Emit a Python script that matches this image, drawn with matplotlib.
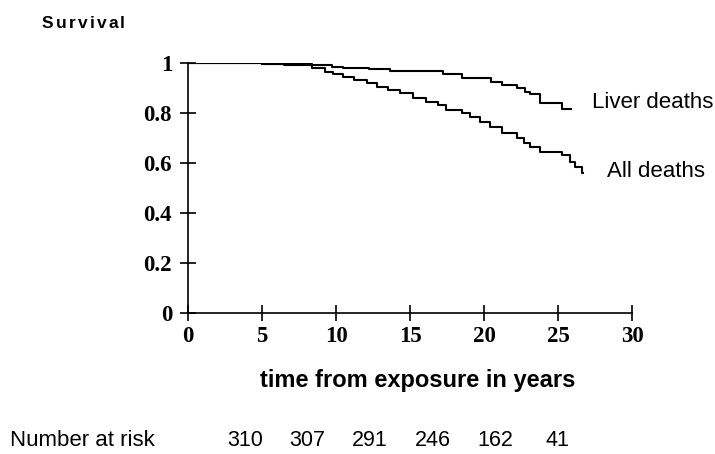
import matplotlib
matplotlib.use('Agg')
import matplotlib.pyplot as plt

# Kaplan-Meier style step curves
liver_t = [0, 3.0, 5.0, 8.35, 9.7, 10.5, 12.2, 13.65, 17.2, 18.5, 20.5, 21.2, 22.2, 22.8, 23.1, 23.8, 25.25, 25.9]
liver_s = [1.0, 0.999, 0.997, 0.992, 0.983, 0.979, 0.975, 0.969, 0.955, 0.939, 0.925, 0.912, 0.899, 0.885, 0.875, 0.839, 0.815, 0.815]

all_t = [0, 3.0, 5.0, 6.5, 8.35, 9.25, 9.8, 10.5, 11.2, 12.1, 12.75, 13.5, 14.3, 15.2, 16.1, 16.9, 17.4, 18.5, 19.05,
         19.7, 20.4, 21.2, 22.2, 22.7, 23.1, 23.8, 25.25, 25.8, 26.15, 26.6, 26.7]
all_s = [1.0, 0.999, 0.996, 0.993, 0.979, 0.965, 0.955, 0.945, 0.932, 0.919, 0.905, 0.892, 0.879, 0.859, 0.845,
         0.832, 0.812, 0.799, 0.785, 0.765, 0.745, 0.719, 0.699, 0.679, 0.665, 0.643, 0.632, 0.605, 0.583, 0.559, 0.559]

xticks = [0, 5, 10, 15, 20, 25, 30]
yticks = [0, 0.2, 0.4, 0.6, 0.8, 1]
ytick_labels = ['0', '0.2', '0.4', '0.6', '0.8', '1']
at_risk = [310, 307, 291, 246, 162, 41]

W, H = 715, 454
fig = plt.figure(figsize=(W / 100, H / 100), dpi=100)
ax = fig.add_axes([188 / W, 1 - 313 / H, 444 / W, 250 / H])

ax.step(liver_t, liver_s, where='post', color='black', lw=1.5)
ax.step(all_t, all_s, where='post', color='black', lw=1.5)

ax.set_xlim(0, 30)
ax.set_ylim(0, 1)
ax.spines['top'].set_visible(False)
ax.spines['right'].set_visible(False)
ax.spines['left'].set_linewidth(1.2)
ax.spines['bottom'].set_linewidth(1.2)

ax.set_xticks(xticks)
ax.set_yticks(yticks)
ax.set_yticklabels(ytick_labels)
ax.tick_params(direction='inout', length=11, width=1.2)
ax.tick_params(axis='x', pad=3.5)
ax.tick_params(axis='y', pad=6)
for lab in ax.get_xticklabels() + ax.get_yticklabels():
    lab.set_fontfamily('Liberation Serif')
    lab.set_fontweight('bold')
    lab.set_fontsize(16.5)

fig.text(418 / W, 1 - 380 / H, 'time from exposure in years', fontfamily='Liberation Sans',
         fontweight='bold', fontsize=17, va='center', ha='center')

# "Survival" with a little letter spacing
fig.canvas.draw()
renderer = fig.canvas.get_renderer()
xpos = 42
for ch in 'Survival':
    t = fig.text(xpos / W, 1 - 23 / H, ch, fontfamily='Liberation Sans', fontweight='bold',
                 fontsize=12.5, va='center', ha='left')
    xpos += t.get_window_extent(renderer).width + 2.2

ax.text(27.28, 0.843, 'Liver deaths', fontfamily='Liberation Sans', fontsize=16,
        va='center', ha='left')
ax.text(28.29, 0.565, 'All deaths', fontfamily='Liberation Sans', fontsize=16,
        va='center', ha='left')

fig.text(10 / W, 1 - 441 / H, 'Number at risk', fontfamily='Liberation Sans', fontsize=16,
         va='center', ha='left')
for i, n in enumerate(at_risk):
    fig.text((245 + i * 62.5) / W, 1 - 441 / H, str(n), fontfamily='Liberation Sans', fontsize=15.5,
             va='center', ha='center')

fig.savefig('out.png', dpi=100)
